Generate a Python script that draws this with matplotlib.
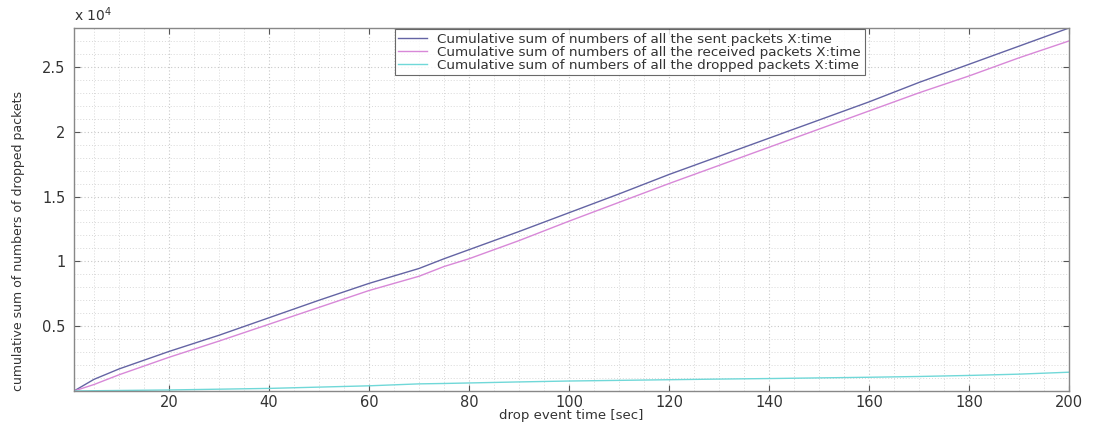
import matplotlib
matplotlib.use("Agg")
import matplotlib.pyplot as plt
from matplotlib.ticker import MultipleLocator, FixedLocator, FuncFormatter

# ---- data ----
time_s = [1, 5, 10, 20, 30, 40, 50, 60, 70, 75, 80, 90, 100, 110, 120,
          130, 140, 150, 160, 170, 180, 190, 200]
sent = [0, 900, 1700, 3050, 4300, 5650, 7000, 8300, 9450, 10200, 10900,
        12300, 13750, 15200, 16700, 18100, 19500, 20900, 22300, 23800,
        25200, 26600, 28000]
received = [0, 500, 1250, 2600, 3850, 5150, 6450, 7750, 8850, 9600, 10200,
            11600, 13100, 14550, 16000, 17400, 18800, 20200, 21600, 23000,
            24300, 25700, 27000]
dropped = [0, 20, 40, 80, 140, 200, 300, 400, 550, 580, 620, 700, 770, 820,
           870, 920, 960, 1010, 1060, 1120, 1200, 1300, 1450]

x_ticks = [20, 40, 60, 80, 100, 120, 140, 160, 180, 200]
y_ticks = [5000, 10000, 15000, 20000, 25000]

labels = ["Cumulative sum of numbers of all the sent packets X:time",
          "Cumulative sum of numbers of all the received packets X:time",
          "Cumulative sum of numbers of all the dropped packets X:time"]
colors = ["#6464a4", "#d888d8", "#70d8d8"]

plt.rcParams['font.family'] = ['DejaVu Sans']

fig = plt.figure(figsize=(10.93, 4.26), dpi=100)
ax = fig.add_axes([74 / 1093, 35 / 426, (1069 - 74) / 1093, (391 - 28) / 426])

for ys, lab, c in zip([sent, received, dropped], labels, colors):
    ax.plot(time_s, ys, color=c, lw=1.0, label=lab)

ax.set_xlim(1, 200)
ax.set_ylim(0, 28000)

ax.xaxis.set_major_locator(FixedLocator(x_ticks))
ax.yaxis.set_major_locator(FixedLocator(y_ticks))
ax.xaxis.set_minor_locator(MultipleLocator(5))
ax.yaxis.set_minor_locator(MultipleLocator(1000))
ax.yaxis.set_major_formatter(FuncFormatter(lambda v, p: f"{v/1e4:g}"))

ax.tick_params(which='major', direction='in', length=4, width=0.8,
               top=True, right=True, labelsize=10.5, colors='#555555',
               labelcolor='#333333', pad=6)
ax.tick_params(axis='x', which='major', pad=3)
ax.tick_params(which='minor', length=0, top=True, right=True)

ax.grid(which='major', color='#c8c8c8', linestyle=(0, (1, 2)), lw=0.8)
ax.grid(which='minor', color='#d8d8d8', linestyle=(0, (1, 2)), lw=0.7)

for s in ax.spines.values():
    s.set_color('#888888')
    s.set_linewidth(1.0)

ax.set_xlabel("drop event time [sec]", fontsize=9.5, color='#333333', labelpad=-1)
ax.set_ylabel("cumulative sum of numbers of dropped packets", fontsize=9,
              color='#333333')
ax.yaxis.set_label_coords(-0.049, 0.413)

ax.text(0.0, 1.012, r"x 10$^4$", transform=ax.transAxes, fontsize=10,
        color='#333333', ha='left', va='bottom')

leg = ax.legend(loc='upper left', bbox_to_anchor=((395 - 74) / 995, 0.996),
                fontsize=9.7, frameon=True, fancybox=False,
                borderaxespad=0.0, handlelength=2.1, handletextpad=0.8,
                labelspacing=0.0, borderpad=0.25)
leg.get_frame().set_edgecolor('#444444')
leg.get_frame().set_linewidth(0.8)
for t in leg.get_texts():
    t.set_color('#333333')

fig.savefig("out.png", dpi=100)
